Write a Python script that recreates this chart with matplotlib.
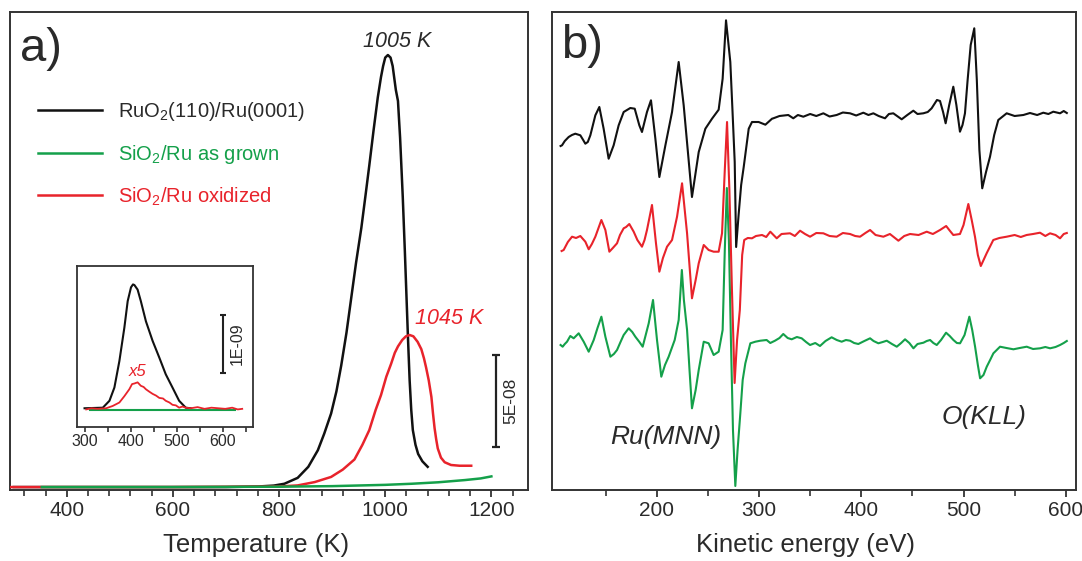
import matplotlib
matplotlib.use("Agg")
import matplotlib.pyplot as plt
from matplotlib.ticker import FixedLocator
from matplotlib.lines import Line2D

plt.rcParams['font.family'] = ['Liberation Sans', 'DejaVu Sans']
plt.rcParams['mathtext.fontset'] = 'custom'
plt.rcParams['mathtext.rm'] = 'Liberation Sans'
plt.rcParams['mathtext.it'] = 'Liberation Sans:italic'

# ---------------- colours ----------------
C_BLACK = "#111111"
C_RED = "#e8232b"
C_GREEN = "#14a04a"
C_TEXT = "#2a2a2a"

# ---------------- panel a: TPD main (units of 1E-08) ----------------
tpd_labels = ["RuO$_2$(110)/Ru(0001)", "SiO$_2$/Ru as grown", "SiO$_2$/Ru oxidized"]

ru_T = [300, 500, 700, 760, 790, 810, 835, 855, 873, 885, 898, 908, 917, 927, 936, 945,
        955, 963, 970, 978, 986, 992, 996, 1000, 1005, 1010, 1014, 1020, 1024, 1028, 1033,
        1037, 1040, 1043, 1046, 1049, 1052, 1057, 1062, 1070, 1080]
ru_I = [0.0, 0.0, 0.0, 0.03, 0.08, 0.18, 0.5, 1.1, 2.0, 2.9, 4.0, 5.2, 6.6, 8.4, 10.3, 12.2,
        14.1, 15.9, 17.5, 19.4, 21.2, 22.3, 22.9, 23.36, 23.5, 23.36, 22.9, 21.6, 21.0, 19.0, 15.8,
        12.8, 10.4, 8.0, 5.8, 4.2, 3.1, 2.3, 1.8, 1.4, 1.1]

ox_T = [295, 400, 600, 800, 835, 867, 898, 920, 942, 957, 970, 982, 992, 1002, 1011, 1018,
        1024, 1032, 1039, 1046, 1053, 1061, 1068, 1073, 1077, 1082, 1087, 1090, 1093, 1096,
        1099, 1105, 1112, 1124, 1140, 1162]
ox_I = [0.0, 0.0, 0.0, 0.03, 0.09, 0.27, 0.55, 0.95, 1.5, 2.3, 3.1, 4.2, 5.0, 6.0, 6.7, 7.3,
        7.65, 8.0, 8.2, 8.27, 8.2, 7.9, 7.5, 7.0, 6.5, 5.8, 4.9, 4.0, 3.2, 2.6,
        2.1, 1.6, 1.35, 1.2, 1.16, 1.16]

gr_T = [353, 600, 800, 900, 1000, 1050, 1100, 1150, 1180, 1200]
gr_I = [0.0, 0.0, 0.02, 0.05, 0.12, 0.18, 0.26, 0.38, 0.47, 0.58]

peak_labels = ["1005 K", "1045 K"]

# ---------------- panel a inset (units of 1E-09) ----------------
in_ru_T = [300, 339.6, 354, 364.7, 375.5, 386.3, 393.5, 400.7, 405, 408, 415, 422, 433, 447.5,
           462, 476, 490.6, 505, 519.4, 530]
in_ru_I = [0.0, 0.01, 0.13, 0.36, 0.82, 1.4, 1.86, 2.1, 2.15, 2.14, 2.06, 1.86, 1.51, 1.17,
           0.88, 0.59, 0.36, 0.13, 0.01, 0.0]

in_ox_T = [303.6, 315, 328, 346.8, 361, 375.5, 386.3, 397, 403, 408, 415, 422, 428, 433, 440,
           447.5, 455, 462, 470, 476, 484, 490.6, 498, 505, 512, 519.4, 530, 545, 560, 575,
           590, 605, 620, 632, 641.7]
in_ox_I = [-0.02, 0.0, -0.01, 0.0, 0.04, 0.1, 0.21, 0.33, 0.42, 0.43, 0.45, 0.39, 0.37, 0.33, 0.29,
           0.25, 0.22, 0.18, 0.17, 0.13, 0.1, 0.06, 0.05, 0.01, 0.03, 0.01, 0.0, 0.02, -0.01, 0.01,
           0.0, -0.01, 0.01, -0.02, -0.01]

in_gr_T = [310.8, 627]
in_gr_I = [-0.03, -0.03]

# ---------------- panel b: AES spectra (offset, arbitrary units) ----------------
spec_labels = ["Ru(MNN)", "O(KLL)"]

aes_black_E = [105.9, 107.3, 110, 113.8, 117, 120.3, 125.2, 128, 130.1, 132.5, 135, 139.9, 143.8,
               148, 152.9, 157.8, 162.7, 167.6, 174.1, 178.4, 182.9, 185.5, 190.4, 194.3, 198.6,
               202.5, 208.4, 214.9, 221.4, 226.3, 234.4, 241, 247.5, 254, 260.5, 264.4, 267.7,
               271.9, 274, 276.2, 277.6, 280, 282.5, 285, 289.9, 293.1, 299.6, 306.2, 312.7,
               314, 320, 328.6, 333.5, 338, 343.3, 350, 356, 362.9, 369, 375.9, 382, 389, 395,
               402, 407, 411.8, 417, 423.2, 427, 431.3, 435, 439.5, 445, 450.9, 455, 460.7, 465,
               468.8, 474, 477, 480, 482.5, 486, 490, 493, 496.5, 499, 501.4, 504, 507, 510.5,
               513, 515.5, 518.3, 522, 525.9, 530, 534, 542.2, 550, 558.5, 565, 572, 578, 583,
               587.8, 594.4, 598, 601]
aes_black_S = [344, 344.7, 349, 353, 355, 356.3, 354.7, 350, 346.3, 348, 354.7, 374.7, 383,
               361.3, 331.3, 344.7, 364.7, 378, 382, 381.3, 364.7, 358, 378, 389.7, 351.3,
               313, 344.7, 378, 428, 384.7, 293, 338, 361.3, 371.3, 380.3, 411.3, 469.7,
               428, 380, 328, 243, 275, 305, 323, 361.3, 368, 368, 365.3, 371.3,
               371.7, 374, 375, 371.7, 375, 373.3, 376, 374, 376.7, 373.5, 375, 377.5, 376.7, 374.5,
               377.3, 375, 376.7, 374, 371.7, 376, 376.7, 374, 370.7, 375, 379.3, 376, 376.7, 378,
               381.7, 390, 389, 378, 366.7, 385, 403.3, 385, 358.3, 365, 376.7, 410, 445, 461.7,
               410, 340, 301.7, 318, 333.3, 355, 370, 376.7, 374, 375, 377, 375, 377.3, 376,
               378.3, 376.7, 379, 377]

aes_red_E = [106.9, 108.9, 113, 117.1, 121, 125.2, 130.1, 133.4, 136.5, 139.9, 145.8, 149.7, 153.6,
             157, 161.1, 164, 167.6, 170, 173.1, 177.4, 181, 185.5, 188, 190.4, 195.3, 199.2,
             202.5, 206, 210, 214.9, 219.8, 224.7, 229.6, 234.4, 238, 241, 245.9, 250.7, 255.6,
             260.5, 263.8, 266.5, 268.7, 271, 273.5, 276.1, 278.5, 281.2, 283.5, 285.5, 289,
             293.1, 297, 302.9, 307, 311, 317.3, 322, 330.3, 335, 340.1, 345, 349.9, 356, 362.9,
             369, 375.9, 382, 389, 394, 398.8, 404, 408.6, 414, 421.6, 428, 436.3, 442, 447.7,
             456, 464, 470, 477, 483, 486.8, 490, 496.5, 500, 504.7, 508, 511.2, 514, 516.9,
             522.6, 529.1, 535, 542.2, 550, 556, 561.7, 568, 574.8, 580, 584.6, 590, 594.4, 598, 601]
aes_red_S = [239, 240, 248, 253.3, 252, 254, 248.3, 240.7, 246, 253.3, 270, 260, 238.3,
             242, 246.7, 255, 261.7, 263, 266, 258.3, 250, 243.3, 250, 260, 285, 246.7,
             218.3, 232, 243.3, 250, 273.3, 306.7, 256.7, 191.7, 210, 226.7, 245, 240, 238.3,
             238.3, 256.7, 320, 368, 300, 200, 107, 150, 180, 235, 250, 252,
             251.7, 254, 255, 253, 258.3, 251.7, 256, 256.7, 254, 259.3, 256, 253.3, 257, 256.7,
             254, 253.3, 257, 256, 254, 253.3, 257, 260, 255, 253.3, 256, 249.3, 254, 256,
             255, 258.3, 256, 260, 264, 259, 255, 256, 265, 286, 270, 253.3, 235, 224,
             236.7, 250, 252, 253.3, 255, 253, 255, 256, 257.3, 254, 256.7, 255, 251.7, 256, 257]

aes_green_E = [105.9, 107.9, 110, 112.2, 115.4, 118.7, 123.6, 128.5, 133.4, 138.3, 142, 145.8,
               149.7, 154.6, 158, 161.1, 164.5, 167.6, 172.5, 176, 179, 183, 186.2, 192.1, 196.3,
               200.2, 204.4, 208, 211.6, 217.5, 221.4, 224.5, 226.5, 229.6, 232, 234.4, 238, 241,
               245.9, 250.7, 255.6, 260.5, 264.4, 266.5, 268.5, 270.5, 272.5, 274.5, 276.8, 279,
               281.7, 284, 286.6, 291.5, 296.4, 301.3, 307.4, 311, 315.6, 320, 323.7, 328, 331.9,
               337, 341.7, 346, 349.9, 355, 359.6, 365, 371, 376, 380.8, 385, 389, 393, 397.1,
               403, 408.6, 412, 416.7, 421, 424.9, 430, 434.7, 439, 442.8, 447, 451, 455, 460.8,
               464, 467.3, 470.5, 473.8, 478, 482.9, 486.5, 490.1, 493.5, 496.6, 501, 505.7,
               508.5, 511.3, 514, 516.2, 519.5, 522.7, 526, 529.2, 535.7, 542, 548.8, 555, 561.8,
               568, 574.9, 580, 584.7, 590, 594.4, 598, 601]
aes_green_S = [145, 143.3, 146, 148.3, 154, 151.7, 156.7, 148.3, 138.3, 150, 162, 173.3,
               153.3, 133.3, 136, 140, 148, 155, 161.7, 158, 153.3, 148, 143.3, 166.7, 190,
               150, 113.3, 125, 133.3, 150, 170, 220, 190, 160, 120, 81.7, 100, 120,
               148.3, 146.7, 135, 138.3, 160, 240, 302, 250, 150, 60, 4, 40,
               76.7, 110, 126.7, 146.7, 148.3, 149.3, 150, 147, 149.3, 152, 156, 152, 150.7,
               153, 151.7, 148, 145, 147, 144, 149, 152.7, 150, 148.3, 150, 149.3, 147, 146,
               149, 151.7, 149, 146.7, 148, 149.3, 146, 143.3, 147, 150.7, 147, 141.7, 146, 147.3,
               149, 150, 147, 145, 150, 157.3, 154, 150, 147, 146.7, 155, 173.3,
               160, 143.3, 125, 111.7, 115, 123.3, 130, 136.7, 143.3, 142, 140.7, 142, 143.3,
               141, 141.7, 143, 141.7, 143, 145, 147, 149]

# ---------------- figure ----------------
W, H = 1082, 561
fig = plt.figure(figsize=(W / 100, H / 100), dpi=100)
fig.patch.set_facecolor("white")


def frac(x0, y_top, x1, y_bot):
    return [x0 / W, 1 - y_bot / H, (x1 - x0) / W, (y_bot - y_top) / H]


def style_frame(ax, lw=1.4):
    for s in ax.spines.values():
        s.set_linewidth(lw)
        s.set_color("#333333")


# ---- panel a ----
ax1 = fig.add_axes(frac(10, 12, 528, 490))
ax1.plot(ru_T, ru_I, color=C_BLACK, lw=1.8, label=tpd_labels[0], zorder=3)
ax1.plot(ox_T, ox_I, color=C_RED, lw=1.8, label=tpd_labels[2], zorder=4)
ax1.plot(gr_T, gr_I, color=C_GREEN, lw=1.8, label=tpd_labels[1], zorder=5)
ax1.set_xlim(293, 1269)
ax1.set_ylim(-0.16, 25.84)
ax1.set_yticks([])
ax1.xaxis.set_major_locator(FixedLocator([400, 600, 800, 1000, 1200]))
ax1.xaxis.set_minor_locator(FixedLocator([320, 360, 440, 480, 520, 560, 640, 680, 720, 760,
                                          840, 880, 920, 960, 1040, 1080, 1120, 1160, 1240]))
ax1.tick_params(axis="x", which="major", direction="out", length=5, width=1.3,
                labelsize=15, pad=3, colors="#333333", labelcolor=C_TEXT)
ax1.tick_params(axis="x", which="minor", direction="out", length=4, width=1.2, colors="#333333")
style_frame(ax1)

handles = [Line2D([], [], color=c, lw=1.8) for c in (C_BLACK, C_GREEN, C_RED)]
leg = ax1.legend(handles, tpd_labels, loc="upper left", bbox_to_anchor=(0.054, 0.816),
                 frameon=False, fontsize=14.5, handlelength=3.2, handletextpad=0.75,
                 labelspacing=0.98, borderpad=0, borderaxespad=0)
for t, c in zip(leg.get_texts(), (C_TEXT, C_GREEN, C_RED)):
    t.set_color(c)

ax1.text(1022, 24.25, peak_labels[0], fontsize=15.5, style="italic", color=C_TEXT,
         ha="center", va="center")
ax1.text(1120, 9.15, peak_labels[1], fontsize=15.5, style="italic", color=C_RED,
         ha="center", va="center")
ax1.text(0.06, 0.922, "a)", transform=ax1.transAxes, fontsize=34, color=C_TEXT,
         ha="center", va="center")

# scale bar 5E-08
sb_main_T, sb_main_y, sb_main_half = 1209, 4.7, 2.5
ax1.errorbar([sb_main_T], [sb_main_y], yerr=[sb_main_half], color="#222222", lw=1.6,
             capsize=3, capthick=1.6, fmt="none")
ax1.text(1237, sb_main_y, "5E-08", rotation=90, fontsize=12.5, color=C_TEXT,
         ha="center", va="center")

fig.text(256 / W, 1 - 545 / H, "Temperature (K)", fontsize=18.5, color=C_TEXT,
         ha="center", va="center")

# ---- inset ----
axi = fig.add_axes(frac(76.7, 266, 252.5, 426.7))
axi.plot(in_ru_T, in_ru_I, color=C_BLACK, lw=1.5, zorder=3)
axi.plot(in_gr_T, in_gr_I, color=C_GREEN, lw=1.5, zorder=4)
axi.plot(in_ox_T, in_ox_I, color=C_RED, lw=1.3, zorder=5)
axi.set_xlim(283, 664)
axi.set_ylim(-0.32, 2.47)
axi.set_yticks([])
axi.xaxis.set_major_locator(FixedLocator([300, 400, 500, 600]))
axi.xaxis.set_minor_locator(FixedLocator([350, 450, 550, 650]))
axi.tick_params(axis="x", which="both", direction="out", length=3.5, width=1.2,
                labelsize=11.5, pad=1.5, colors="#333333", labelcolor=C_TEXT)
style_frame(axi, 1.3)
sb_in_T, sb_in_y, sb_in_half = 601, 1.12, 0.5
axi.errorbar([sb_in_T], [sb_in_y], yerr=[sb_in_half], color="#222222", lw=1.5,
             capsize=2.5, capthick=1.5, fmt="none")
axi.text(631, sb_in_y, "1E-09", rotation=90, fontsize=11.5, color=C_TEXT,
         ha="center", va="center")
axi.text(415, 0.64, "x5", fontsize=12, style="italic", color=C_RED, ha="center", va="center")

# ---- panel b ----
ax2 = fig.add_axes(frac(552, 12, 1076, 490))
ax2.plot(aes_black_E, aes_black_S, color=C_BLACK, lw=1.5, zorder=3)
ax2.plot(aes_green_E, aes_green_S, color=C_GREEN, lw=1.5, zorder=4)
ax2.plot(aes_red_E, aes_red_S, color=C_RED, lw=1.5, zorder=5)
ax2.set_xlim(97.5, 610)
ax2.set_ylim(0, 478)
ax2.set_yticks([])
ax2.xaxis.set_major_locator(FixedLocator([200, 300, 400, 500, 600]))
ax2.xaxis.set_minor_locator(FixedLocator([150, 250, 350, 450, 550]))
ax2.tick_params(axis="x", which="major", direction="out", length=5, width=1.3,
                labelsize=15, pad=3, colors="#333333", labelcolor=C_TEXT)
ax2.tick_params(axis="x", which="minor", direction="out", length=4, width=1.2, colors="#333333")
style_frame(ax2)
ax2.text(127.2, 443.5, "b)", fontsize=34, color=C_TEXT, ha="center", va="center")
ax2.text(209, 53.3, spec_labels[0], fontsize=19, style="italic", color=C_TEXT,
         ha="center", va="center")
ax2.text(520, 73.3, spec_labels[1], fontsize=19, style="italic", color=C_TEXT,
         ha="center", va="center")

fig.text(805.6 / W, 1 - 545 / H, "Kinetic energy (eV)", fontsize=18.5, color=C_TEXT,
         ha="center", va="center")

fig.savefig("out.png", dpi=100, facecolor="white")
